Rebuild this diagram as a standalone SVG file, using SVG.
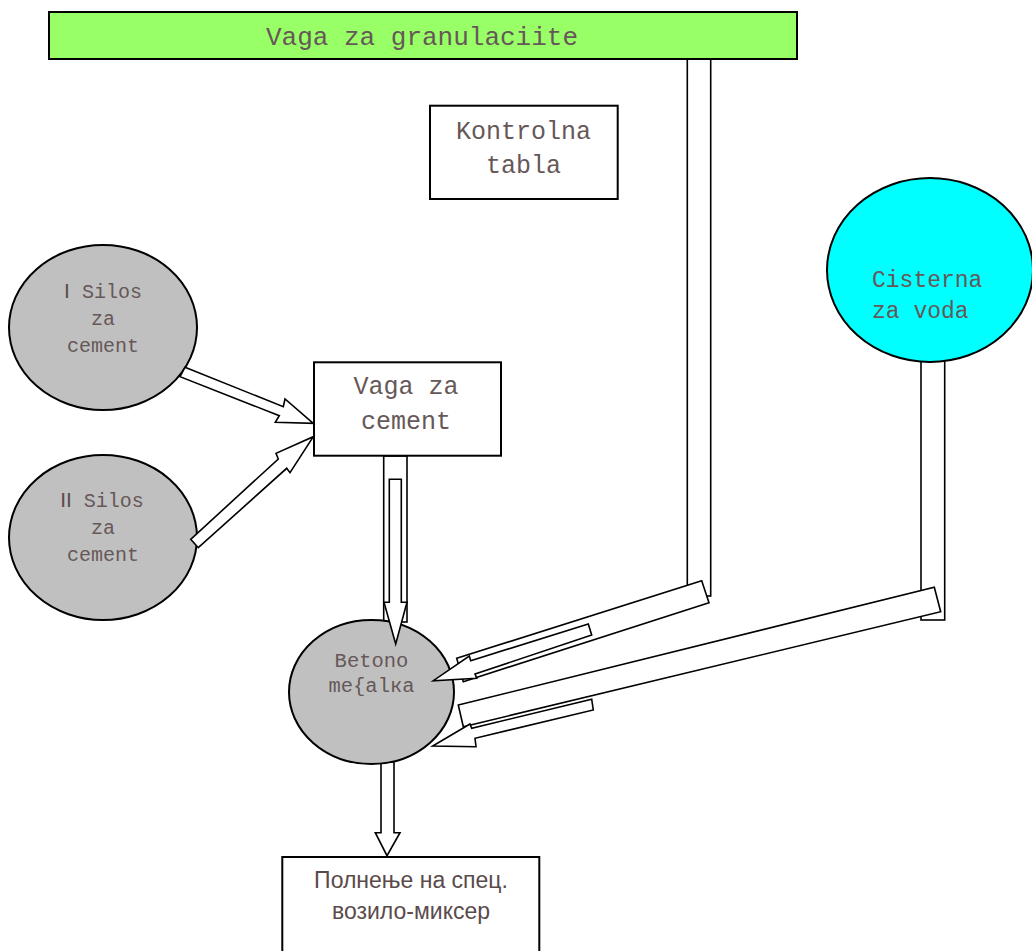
<svg xmlns="http://www.w3.org/2000/svg" width="1032" height="951" viewBox="0 0 1032 951">
<style>
.box{stroke:#000;stroke-width:2;}
.conn{fill:#fff;stroke:#000;stroke-width:1.6;stroke-linejoin:miter;}
.mono{font-family:"Liberation Mono","Courier New",monospace;fill:#665858;}
.sans{font-family:"Liberation Sans",Arial,sans-serif;fill:#5a4b4b;}
</style>
<rect width="1032" height="951" fill="#fff"/>
<g id="connectors-back">
<rect class="conn" x="687.3" y="58" width="23.4" height="538"/>
<rect class="conn" x="921" y="360" width="23.7" height="260"/>
<rect class="conn" x="383.7" y="456" width="23.3" height="166"/>
<polygon class="conn" points="381,752 394,752 394,832.7 400,832.7 387,855.7 375.3,832.7 381,832.7"/>
</g>
<g id="vaga-granulaciite">
<rect class="box" x="49" y="12" width="748" height="47" fill="#99ff66"/>
<text class="mono" x="422" y="45" font-size="26" text-anchor="middle" fill="#4f5a4a">Vaga za granulaciite</text>
</g>
<g id="kontrolna-tabla">
<rect class="box" x="430" y="105.7" width="187.7" height="93.3" fill="#fff"/>
<text class="mono" x="523.5" y="139" font-size="25" text-anchor="middle">Kontrolna</text>
<text class="mono" x="523.5" y="173" font-size="25" text-anchor="middle">tabla</text>
</g>
<g id="cisterna">
<ellipse class="box" cx="930" cy="270" rx="103" ry="92" fill="#00ffff"/>
<text class="mono" x="872" y="287" font-size="23" fill="#456262">Cisterna</text>
<text class="mono" x="872" y="318" font-size="23" fill="#456262">za voda</text>
</g>
<g id="silos-1">
<ellipse class="box" cx="103" cy="327.5" rx="94" ry="82.5" fill="#c0c0c0"/>
<text class="mono" x="103" y="298" font-size="20" text-anchor="middle"><tspan class="sans" font-size="21">I</tspan> Silos</text>
<text class="mono" x="103" y="325" font-size="20" text-anchor="middle">za</text>
<text class="mono" x="103" y="352" font-size="20" text-anchor="middle">cement</text>
</g>
<g id="silos-2">
<ellipse class="box" cx="103" cy="537.5" rx="94" ry="82.5" fill="#c0c0c0"/>
<text class="mono" x="102" y="507" font-size="20" text-anchor="middle"><tspan class="sans" font-size="21">II</tspan> Silos</text>
<text class="mono" x="103" y="534" font-size="20" text-anchor="middle">za</text>
<text class="mono" x="103" y="561" font-size="20" text-anchor="middle">cement</text>
</g>
<g id="vaga-cement">
<rect class="box" x="314" y="362.3" width="187" height="93.4" fill="#fff"/>
<text class="mono" x="406" y="394" font-size="25" text-anchor="middle">Vaga za</text>
<text class="mono" x="406" y="429" font-size="25" text-anchor="middle">cement</text>
</g>
<g id="betono-meshalka">
<ellipse class="box" cx="371.5" cy="692" rx="82.5" ry="72" fill="#c0c0c0"/>
<text class="mono" x="371.5" y="667" font-size="20.5" text-anchor="middle">Betono</text>
<text class="mono" x="371.5" y="692" font-size="20.5" text-anchor="middle">me{alкa</text>
</g>
<g id="polnenje">
<rect class="box" x="282.3" y="857" width="257" height="110" fill="#fff"/>
<text class="sans" x="411" y="888" font-size="23" text-anchor="middle">Полнење на спец.</text>
<text class="sans" x="411" y="919" font-size="23" text-anchor="middle">возило-миксер</text>
</g>
<g id="connectors">
<polygon class="conn" points="185,367.3 283.3,406.7 285,399 313.3,423.3 275.3,422.3 279.3,415.7 180,376.7"/>
<polygon class="conn" points="190.7,539.3 278.3,459 276,453.3 313.3,436.7 290,472.7 286.7,468.3 198.3,547.7"/>
<polygon class="conn" points="389.3,479.3 401.3,479.3 401.3,602.3 407,602.3 395.7,644 384,602.3 389.3,602.3"/>
<polygon class="conn" points="456.7,658.3 701.7,580.7 709,602.7 463.3,681.7"/>
<polygon class="conn" points="588.3,624 591.7,635 475,674 476.7,678.3 433.3,680.7 469.3,656 470.7,660.7"/>
<polygon class="conn" points="458.3,705 934.3,587.3 940.7,611.7 463.3,726.7"/>
<polygon class="conn" points="591.7,699.3 593.3,710 475,738.3 476,746.7 432.7,746 470,724 471.7,728.3"/>
</g>
</svg>
